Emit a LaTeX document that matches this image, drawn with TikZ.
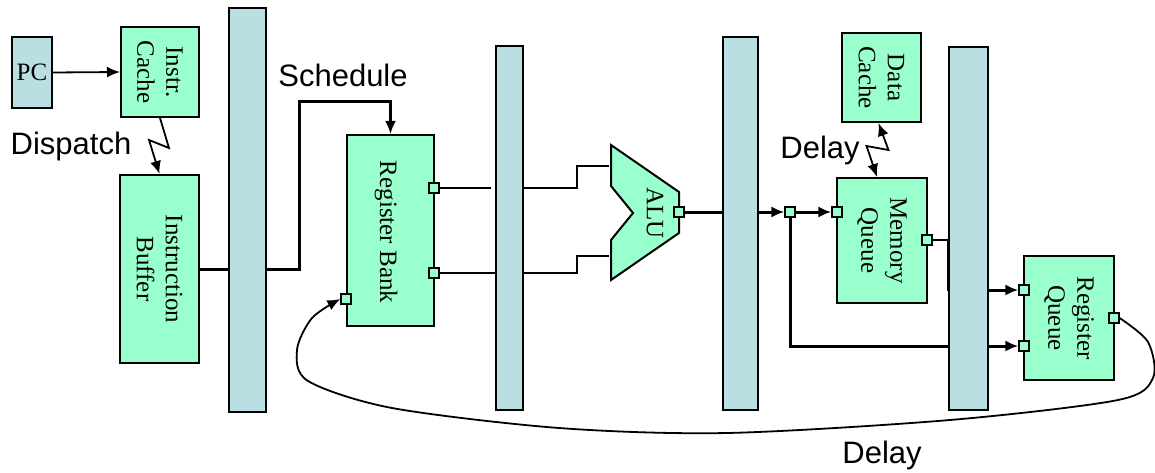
\documentclass[tikz,border=0pt]{standalone}
\usepackage{fontspec}
\setmainfont{Liberation Serif}
\newfontfamily\arialfont{Liberation Sans}
\usetikzlibrary{positioning, arrows.meta, calc}
\definecolor{unitgreen}{RGB}{153,255,204}
\definecolor{latchblue}{RGB}{185,223,227}

\tikzset{
  unit/.style={draw, fill=unitgreen, line width=2pt, inner sep=0pt},
  latch/.style={draw, fill=latchblue, line width=2pt, inner sep=0pt},
  utext/.style={rotate=-90, align=center, font=\fontsize{25}{29}\selectfont},
  port/.style={draw, fill=unitgreen, line width=1.2pt, minimum size=10pt, inner sep=0pt},
  wire/.style={line width=1.8pt},
  bus/.style={line width=3pt},
  tag/.style={font=\arialfont\fontsize{31}{34}\selectfont}
}

\begin{document}
\begin{tikzpicture}[x=1pt, y=-1pt, >={Latex[length=13pt,width=11pt]}]
        \useasboundingbox (0,0) rectangle (1155,473);

        % pipeline latches
        \node[latch, minimum width=37, minimum height=404] (lat1) at (247.5,210) {};
        \node[latch, minimum width=27, minimum height=364] (lat2) at (509.5,228) {};
        \node[latch, minimum width=35, minimum height=373] (lat3) at (740.5,223.5) {};
        \node[latch, minimum width=39, minimum height=363] (lat4) at (968.5,228.5) {};

        % units
        \node[latch, minimum width=40, minimum height=71,
              font=\fontsize{25}{29}\selectfont] (pc) at (32,72.5) {PC};
        \node[unit, minimum width=78, minimum height=90] (icache) at (160,72) {};
        \node[utext] (icache-txt) at (icache) {Instr.\\Cache};
        \node[unit, minimum width=79, minimum height=188] (ibuf) at (159.5,269) {};
        \node[utext] (ibuf-txt) at (ibuf) {Instruction\\Buffer};
        \node[unit, minimum width=87, minimum height=191] (rbank) at (390.5,230.5) {};
        \node[utext] (rbank-txt) at (386,232) {Register Bank};
        \node[unit, minimum width=79, minimum height=89] (dcache) at (881.5,77.5) {};
        \node[utext] (dcache-txt) at (dcache) {Data\\Cache};
        \node[unit, minimum width=90, minimum height=125] (mq) at (882,240.5) {};
        \node[utext] (mq-txt) at (mq) {Memory\\Queue};
        \node[unit, minimum width=90, minimum height=124] (rq) at (1069,318) {};
        \node[utext] (rq-txt) at (rq) {Register\\Queue};

        % ALU
        \draw[unit] (611,145) -- (679,192) -- (679,233) -- (611,280)
          -- (611,240) -- (633,213) -- (611,186) -- cycle;
        \node[utext] (alu-txt) at (655,213) {ALU};
        \coordinate (aluIn1) at (609,166);
        \coordinate (aluIn2) at (609,256);

        % ports
        \node[port] (rbO1) at (434,188) {};
        \node[port] (rbO2) at (434,273) {};
        \node[port] (rbI) at (346,299) {};
        \node[port] (aluO) at (679,212) {};
        \node[port] (jn) at (790,212) {};
        \node[port] (mqI) at (837,212) {};
        \node[port] (mqO) at (927,240) {};
        \node[port] (rqI1) at (1024,290) {};
        \node[port] (rqI2) at (1024,346) {};
        \node[port] (rqO) at (1114,318) {};

        % fetch and dispatch
        \draw[wire,->] (pc.east) -- (icache.west);
        \draw[wire,->] (icache.south) -- ++(9,30) -- ++(-20,-8) -- (ibuf.north);
        \node[tag] (dispatch) at (71,146) {Dispatch};

        % schedule
        \draw[bus] (ibuf.east) -- (lat1.west |- ibuf.east);
        \draw[bus,->] (lat1.east |- ibuf.east) -- ++(32,0)
          |- ($(rbank.north)+(0,-32)$) -- (rbank.north);
        \node[tag] (schedule) at (343,75) {Schedule};

        % operands to ALU
        \draw[wire] (rbO1.east) -- ([xshift=-4pt]lat2.west |- rbO1);
        \draw[wire] (lat2.east |- rbO1) -- ++(53,0) |- (aluIn1);
        \draw[wire] (rbO2.east) -- (lat2.west |- rbO2);
        \draw[wire] (lat2.east |- rbO2) -- ++(53,0) |- (aluIn2);

        % result paths
        \draw[bus] (aluO.east) -- (lat3.west |- aluO);
        \draw[bus,->] (lat3.east |- aluO) -- (jn.west);
        \draw[bus,->] (jn.east) -- (mqI.west);
        \draw[wire,<->] ([xshift=-3pt]dcache.south) -- ++(10,27) -- ++(-22,-4)
          -- ([xshift=-5pt]mq.north);
        \node[tag] (delay1) at (820,150) {Delay};
        \draw[wire] (mqO.east) -- ++(15,0) |- (lat4.west |- rqI1);
        \draw[bus,->] (lat4.east |- rqI1) -- (rqI1.west);
        \draw[bus] (jn.south) |- (lat4.west |- rqI2);
        \draw[bus,->] (lat4.east |- rqI2) -- (rqI2.west);

        % write back
        \draw[wire,->] plot[smooth] coordinates {(rqO.east) (1148,342) (1153,378)
          (1118,400) (950,420) (727,433) (559,428) (392,408) (308,381) (297,350)
          (312,318) (rbI.west)};
        \node[tag] (delay2) at (882,455) {Delay};
      \end{tikzpicture}
\end{document}
